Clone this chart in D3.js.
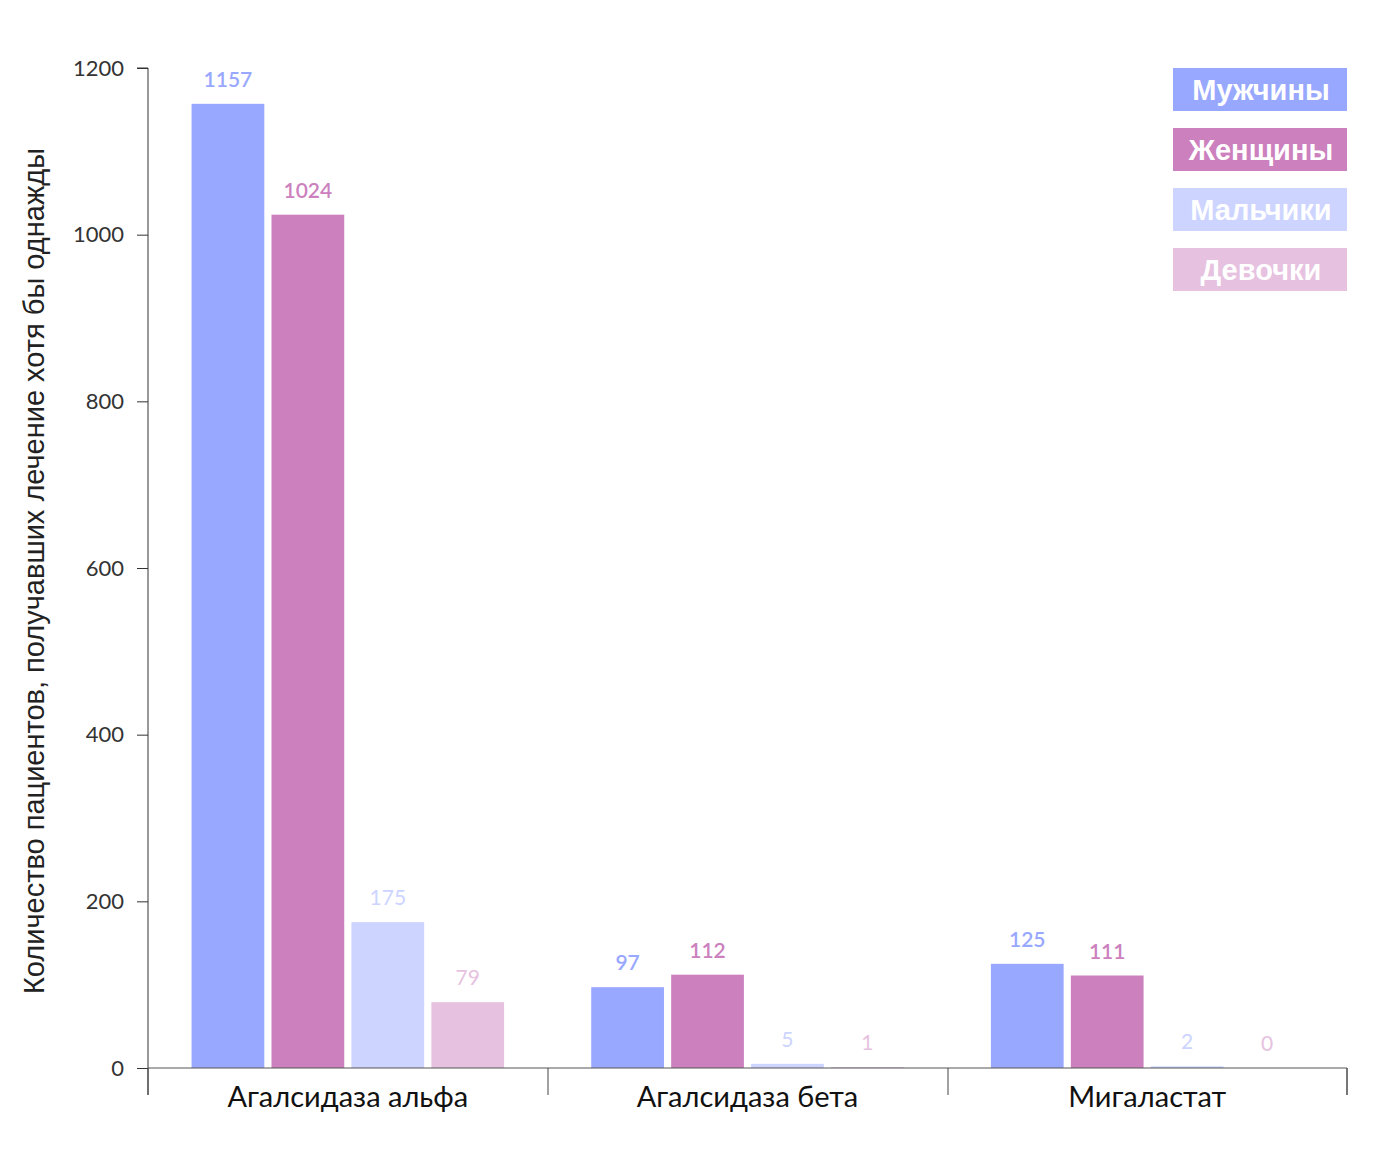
<!DOCTYPE html>
<html><head><meta charset="utf-8">
<script src="https://cdn.jsdelivr.net/npm/d3@7"></script>
<style>body{margin:0;background:#fff}</style>
</head><body>
<svg id="c" width="1392" height="1164"></svg>
<script>
const categories = ["Агалсидаза альфа", "Агалсидаза бета", "Мигаластат"];
const seriesNames = ["Мужчины", "Женщины", "Мальчики", "Девочки"];
const men = [1157, 97, 125];
const women = [1024, 112, 111];
const boys = [175, 5, 2];
const girls = [79, 1, 0];
const yTicks = [0, 200, 400, 600, 800, 1000, 1200];
const yTitle = "Количество пациентов, получавших лечение хотя бы однажды";
const colors = ["#99a8ff", "#cc80be", "#ccd4ff", "#e6c2e0"];

const seriesVals = [men, women, boys, girls];
const svg = d3.select("#c");
const x0 = d3.scaleBand().domain(categories).range([148, 1347]).padding(0);
const x1 = d3.scaleBand().domain(seriesNames).range([0, x0.bandwidth()]).paddingInner(0.09).paddingOuter(0.545);
const y = d3.scaleLinear().domain([0, 1200]).range([1068, 68]);

// bars
categories.forEach((c, ci) => {
  const g = svg.append("g").attr("transform", `translate(${x0(c)},0)`);
  seriesNames.forEach((s, si) => {
    const v = seriesVals[si][ci];
    g.append("rect").attr("x", x1(s)).attr("width", x1.bandwidth())
      .attr("y", y(v)).attr("height", y(0) - y(v)).attr("fill", colors[si]);
    g.append("text").attr("x", x1(s) + x1.bandwidth() / 2).attr("y", y(v) - 17)
      .attr("text-anchor", "middle").attr("fill", colors[si])
      .style("font-family", "Lato").style("font-size", "21px").style("font-weight", si === 2 || si === 3 ? "400" : "600")
      .text(v);
  });
});

// y axis
const ya = svg.append("g").attr("transform", "translate(148,0)")
  .call(d3.axisLeft(y).tickValues(yTicks).tickSize(11).tickPadding(13).tickFormat(d3.format("d")));
ya.select(".domain").attr("stroke", "#333").attr("d", "M-11,68H0V1095");
ya.selectAll(".tick line").attr("stroke", "#333");
ya.selectAll("text").style("font-family", "Lato").style("font-size", "22px").attr("fill", "#333");

// x axis
const xa = svg.append("g").attr("transform", "translate(0,1068)")
  .call(d3.axisBottom(x0).tickSize(0).tickPadding(16));
xa.select(".domain").attr("stroke", "#555").attr("d", "M148,0H1347V27");
xa.selectAll("text").style("font-family", "Lato").style("font-size", "29px").attr("fill", "#111").attr("dy", "0.8em");
svg.append("g").selectAll("line").data([148, 548, 948, 1347]).join("line")
  .attr("x1", d => d).attr("x2", d => d).attr("y1", 1068).attr("y2", 1095).attr("stroke", "#444");

// y title
svg.append("text").attr("transform", "translate(44,571) rotate(-90)")
  .attr("text-anchor", "middle").style("font-family", "Liberation Sans").style("font-size", "29px")
  .attr("fill", "#222").text(yTitle);

// legend
const lg = svg.append("g");
seriesNames.forEach((s, i) => {
  lg.append("rect").attr("x", 1173).attr("y", 68 + i * 60).attr("width", 174).attr("height", 43).attr("fill", colors[i]);
  lg.append("text").attr("x", 1261).attr("y", 68 + i * 60 + 32).attr("text-anchor", "middle")
    .attr("fill", "#fff").style("font-family", "Liberation Sans").style("font-weight", "bold").style("font-size", "29px").text(s);
});
</script>
</body></html>
